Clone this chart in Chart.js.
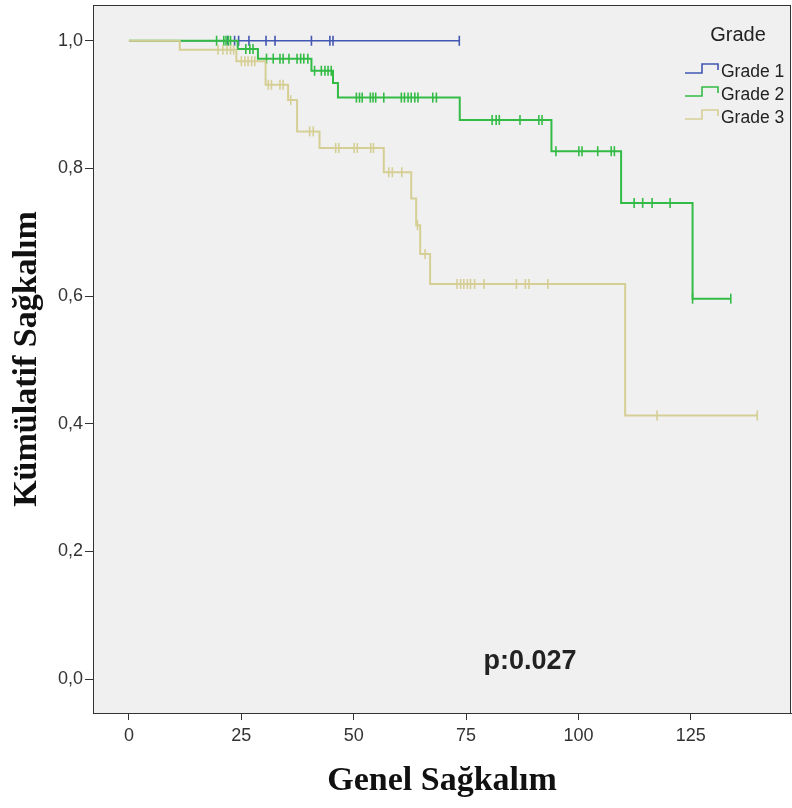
<!DOCTYPE html>
<html>
<head>
<meta charset="utf-8">
<script src="https://cdn.jsdelivr.net/npm/chart.js@4/dist/chart.umd.min.js"></script>
<style>
  html, body { margin: 0; padding: 0; background: #ffffff; }
  #wrap { width: 792px; height: 808px; }
</style>
</head>
<body>
<div id="wrap"><canvas id="km" width="792" height="808"></canvas></div>
<script>
// Kaplan-Meier curves of overall survival by tumour grade
const seriesNames = ['Grade 1', 'Grade 2', 'Grade 3'];
const seriesColors = ['#4257b2', '#33bb46', '#d6cf95'];

// Grade 1: no events, only censored follow-up (months)
const grade1EventTimes = [];
const grade1Survival = [];
const grade1Censored = [22.0, 23.5, 24.4, 26.7, 30.5, 32.5, 40.6, 44.7, 45.4, 73.5];

// Grade 2
const grade2EventTimes = [24.2, 28.7, 40.6, 45.4, 46.5, 73.6, 94.0, 109.5, 125.4];
const grade2Survival = [0.987, 0.972, 0.953, 0.934, 0.911, 0.876, 0.827, 0.746, 0.596];
const grade2Censored = [19.5, 21.1, 21.6, 22.1, 22.6, 26.0, 26.9, 27.6, 30.6, 32.1, 33.6, 34.3,
  35.6, 37.4, 38.2, 38.9, 39.8, 41.3, 42.8, 43.6, 44.3, 45.0, 50.6, 51.3, 51.9, 53.7, 54.3,
  54.9, 56.7, 60.6, 61.3, 62.1, 62.8, 63.6, 64.3, 67.6, 68.4, 80.8, 81.7, 82.4, 87.0, 91.2,
  91.9, 95.0, 100.1, 100.8, 104.3, 107.3, 108.0, 112.4, 114.3, 116.4, 120.4, 125.4, 133.9];

// Grade 3
const grade3EventTimes = [11.3, 23.9, 30.4, 35.4, 37.4, 42.4, 56.7, 62.8, 63.9, 64.8, 67.0, 110.4];
const grade3Survival = [0.986, 0.968, 0.931, 0.907, 0.858, 0.832, 0.794, 0.753, 0.711, 0.666, 0.619, 0.413];
const grade3Censored = [19.8, 20.9, 21.8, 22.6, 23.3, 25.0, 25.8, 26.5, 27.3, 28.0, 31.0, 31.7,
  33.6, 34.3, 36.0, 40.2, 41.0, 46.0, 46.7, 50.1, 50.8, 53.8, 54.4, 57.8, 58.6, 60.7, 64.2,
  65.9, 73.0, 73.8, 74.5, 75.3, 76.0, 76.9, 79.0, 86.2, 88.2, 89.0, 93.2, 117.5, 139.8];

const xTickValues = [0, 25, 50, 75, 100, 125];
const yTickValues = [0, 0.2, 0.4, 0.6, 0.8, 1.0];
const pValueText = 'p:0.027';

// Survival estimate in effect at time t (step function)
function survivalAt(times, surv, t) {
  let s = 1;
  for (let i = 0; i < times.length; i++) {
    if (times[i] <= t) s = surv[i];
  }
  return s;
}

// Step curve points: start at (0,1), one point per event, extended to last follow-up
function curvePoints(times, surv, censored) {
  const pts = [{ x: 0, y: 1 }];
  times.forEach((t, i) => pts.push({ x: t, y: surv[i] }));
  const lastT = Math.max(0, ...times, ...censored);
  pts.push({ x: lastT, y: survivalAt(times, surv, lastT) });
  return pts;
}

function censorPoints(times, surv, censored) {
  return censored.map(t => ({ x: t, y: survivalAt(times, surv, t) }));
}

const groups = [
  [grade1EventTimes, grade1Survival, grade1Censored],
  [grade2EventTimes, grade2Survival, grade2Censored],
  [grade3EventTimes, grade3Survival, grade3Censored]
];

const datasets = [];
groups.forEach((g, i) => {
  const drawOrder = 2 - i; // later grades drawn on top
  datasets.push({
    label: seriesNames[i],
    data: curvePoints(g[0], g[1], g[2]),
    borderColor: seriesColors[i],
    borderWidth: i === 0 ? 1.6 : 2,
    stepped: 'before',
    pointRadius: 0,
    fill: false,
    order: drawOrder
  });
  datasets.push({
    label: seriesNames[i] + ' censored',
    data: censorPoints(g[0], g[1], g[2]),
    showLine: false,
    pointStyle: 'line',
    rotation: 90,
    pointRadius: 5,
    pointBorderWidth: 1.6,
    pointBorderColor: seriesColors[i],
    pointBackgroundColor: seriesColors[i],
    borderColor: seriesColors[i],
    order: drawOrder
  });
});

// Remove the automatic edge padding so the panel fills its box exactly
function noEdgePadding(s) {
  s.paddingTop = 0; s.paddingBottom = 0; s.paddingLeft = 0; s.paddingRight = 0;
}

const sansFamily = '"Liberation Sans", Arial, sans-serif';
const serifFamily = '"Liberation Serif", "Times New Roman", serif';

// Plot panel background, frame, legend and p-value
const panelPlugin = {
  id: 'panel',
  beforeDraw(chart) {
    const { ctx, chartArea: a } = chart;
    ctx.save();
    ctx.fillStyle = '#f0f0f0';
    ctx.fillRect(a.left, a.top, a.right - a.left, a.bottom - a.top);
    ctx.restore();
  },
  afterDraw(chart) {
    const { ctx, chartArea: a } = chart;
    ctx.save();
    ctx.strokeStyle = '#333333';
    ctx.lineWidth = 1;
    ctx.strokeRect(a.left + 0.5, a.top + 0.5, a.right - a.left - 1, a.bottom - a.top);

    // legend
    ctx.fillStyle = '#222222';
    ctx.font = '20px ' + sansFamily;
    ctx.textAlign = 'center';
    ctx.textBaseline = 'middle';
    ctx.fillText('Grade', 738, 35);
    const rows = [71, 94, 117];
    seriesNames.forEach((name, i) => {
      const y = rows[i];
      ctx.strokeStyle = seriesColors[i];
      ctx.lineWidth = 1.6;
      ctx.beginPath();
      ctx.moveTo(685, y + 2);
      ctx.lineTo(702, y + 2);
      ctx.lineTo(702, y - 7);
      ctx.lineTo(718, y - 7);
      ctx.lineTo(718, y - 1);
      ctx.stroke();
      ctx.fillStyle = '#222222';
      ctx.font = '17.5px ' + sansFamily;
      ctx.textAlign = 'left';
      ctx.fillText(name, 721, y + 1);
    });

    // test statistic
    ctx.fillStyle = '#222222';
    ctx.font = 'bold 27px ' + sansFamily;
    ctx.textAlign = 'center';
    ctx.fillText(pValueText, 530, 662);
    ctx.restore();
  }
};

new Chart(document.getElementById('km'), {
  type: 'line',
  data: { datasets },
  options: {
    responsive: false,
    animation: false,
    devicePixelRatio: 1,
    layout: { autoPadding: false, padding: { left: 0, right: 1, top: 5, bottom: 0 } },
    plugins: { legend: { display: false }, tooltip: { enabled: false } },
    scales: {
      x: {
        type: 'linear',
        min: -8,
        max: 147.3,
        afterBuildTicks: s => { s.ticks = xTickValues.map(v => ({ value: v })); },
        afterFit: s => { s.height = 95; noEdgePadding(s); },
        ticks: {
          color: '#333333',
          padding: 5,
          font: { family: sansFamily, size: 18 },
          callback: v => String(v),
          maxRotation: 0
        },
        grid: { drawOnChartArea: false, drawTicks: true, tickLength: 7, color: '#333333' },
        border: { display: true, color: '#333333' },
        title: {
          display: true,
          text: 'Genel Sağkalım',
          color: '#111111',
          font: { family: serifFamily, size: 34, weight: 'bold' },
          padding: { top: 0, bottom: 6 }
        }
      },
      y: {
        type: 'linear',
        min: -0.053,
        max: 1.056,
        afterBuildTicks: s => { s.ticks = yTickValues.map(v => ({ value: v })); },
        afterFit: s => { s.width = 93; noEdgePadding(s); },
        ticks: {
          color: '#333333',
          padding: 2,
          font: { family: sansFamily, size: 18 },
          callback: v => v.toFixed(1).replace('.', ',')
        },
        grid: { drawOnChartArea: false, drawTicks: true, tickLength: 8, color: '#333333' },
        border: { display: true, color: '#333333' },
        title: {
          display: true,
          text: 'Kümülatif Sağkalım',
          color: '#111111',
          font: { family: serifFamily, size: 34, weight: 'bold' },
          padding: { top: 7, bottom: 0 }
        }
      }
    }
  },
  plugins: [panelPlugin]
});
</script>
</body>
</html>
